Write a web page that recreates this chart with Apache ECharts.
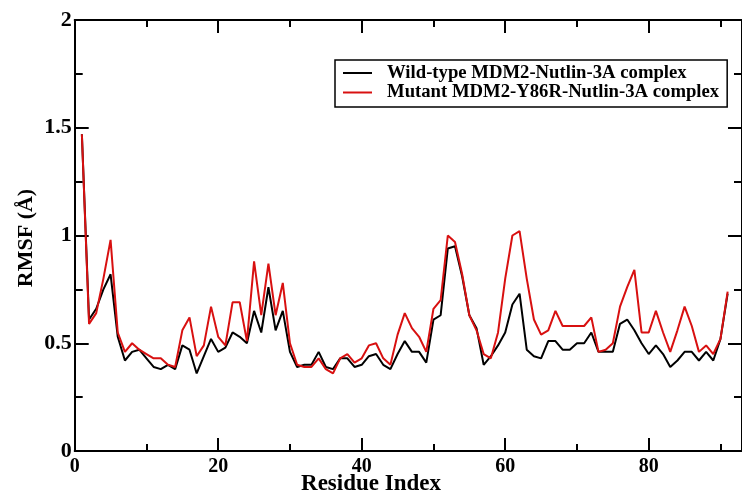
<!DOCTYPE html>
<html>
<head>
<meta charset="utf-8">
<script src="https://cdn.jsdelivr.net/npm/echarts@6/dist/echarts.min.js"></script>
<style>
  html, body { margin: 0; padding: 0; background: #fff; }
  #chart { width: 742px; height: 493px; }
</style>
</head>
<body>
<div id="chart"></div>
<script>
// Residue indices
const residues = [1,2,3,4,5,6,7,8,9,10,11,12,13,14,15,16,17,18,19,20,21,22,23,24,25,26,27,28,29,30,
  31,32,33,34,35,36,37,38,39,40,41,42,43,44,45,46,47,48,49,50,51,52,53,54,55,56,57,58,59,60,
  61,62,63,64,65,66,67,68,69,70,71,72,73,74,75,76,77,78,79,80,81,82,83,84,85,86,87,88,89,90,91];

// RMSF (Å) – Wild-type MDM2-Nutlin-3A complex
const wildType = [1.47,0.61,0.66,0.75,0.82,0.53,0.42,0.46,0.47,0.43,0.39,0.38,0.40,0.38,0.49,0.47,0.36,0.44,0.52,0.46,
  0.48,0.55,0.53,0.50,0.65,0.55,0.76,0.56,0.65,0.46,0.39,0.40,0.40,0.46,0.39,0.38,0.43,0.43,0.39,0.40,
  0.44,0.45,0.40,0.38,0.45,0.51,0.46,0.46,0.41,0.61,0.63,0.94,0.95,0.81,0.63,0.57,0.40,0.44,0.49,0.55,
  0.68,0.73,0.47,0.44,0.43,0.51,0.51,0.47,0.47,0.50,0.50,0.55,0.46,0.46,0.46,0.59,0.61,0.56,0.50,0.45,
  0.49,0.45,0.39,0.42,0.46,0.46,0.42,0.46,0.42,0.52,0.73];

// RMSF (Å) – Mutant MDM2-Y86R-Nutlin-3A complex
const mutant = [1.47,0.59,0.64,0.80,0.98,0.55,0.46,0.50,0.47,0.45,0.43,0.43,0.40,0.39,0.56,0.62,0.44,0.49,0.67,0.53,
  0.49,0.69,0.69,0.51,0.88,0.63,0.87,0.63,0.78,0.50,0.40,0.39,0.39,0.43,0.38,0.36,0.43,0.45,0.41,0.43,
  0.49,0.50,0.43,0.40,0.54,0.64,0.57,0.53,0.46,0.66,0.70,1.00,0.97,0.82,0.63,0.56,0.45,0.43,0.55,0.80,
  1.00,1.02,0.80,0.61,0.54,0.56,0.65,0.58,0.58,0.58,0.58,0.62,0.46,0.47,0.50,0.67,0.76,0.84,0.55,0.55,
  0.65,0.55,0.46,0.56,0.67,0.58,0.46,0.49,0.45,0.52,0.74];

const seriesNames = ['Wild-type MDM2-Nutlin-3A complex', 'Mutant MDM2-Y86R-Nutlin-3A complex'];
const xTickLabels = ['0','20','40','60','80'];
const yTickLabels = ['0','0.5','1','1.5','2'];

const FONT = '"Liberation Serif", "Times New Roman", serif';
const X_MIN = 0, X_MAX = 93, Y_MIN = 0, Y_MAX = 2;

function pairs(ys) { return residues.map((r, i) => [r, ys[i]]); }

function xAx(pos, interval, len, showLine, showLabel) {
  return {
    type: 'value', position: pos, min: X_MIN, max: X_MAX, interval: interval,
    axisLine: { show: showLine, onZero: false, lineStyle: { color: '#000', width: 2 } },
    axisTick: { show: true, inside: true, length: len, lineStyle: { color: '#000', width: 2 } },
    axisLabel: {
      show: showLabel, margin: 6, color: '#000', fontFamily: FONT, fontWeight: 'bold', fontSize: 20,
      showMaxLabel: false,
      formatter: v => { const s = String(v); return xTickLabels.indexOf(s) >= 0 ? s : ''; }
    },
    splitLine: { show: false }
  };
}
function yAx(pos, interval, len, showLine, showLabel) {
  return {
    type: 'value', position: pos, min: Y_MIN, max: Y_MAX, interval: interval,
    axisLine: { show: showLine, onZero: false, lineStyle: { color: '#000', width: 2 } },
    axisTick: { show: true, inside: true, length: len, lineStyle: { color: '#000', width: 2 } },
    axisLabel: {
      show: showLabel, margin: 3, color: '#000', fontFamily: FONT, fontWeight: 'bold', fontSize: 22,
      formatter: v => { const s = String(v); return yTickLabels.indexOf(s) >= 0 ? s : ''; }
    },
    splitLine: { show: false }
  };
}

const chart = echarts.init(document.getElementById('chart'), null, { renderer: 'canvas' });
chart.setOption({
  animation: false,
  backgroundColor: '#fff',
  grid: { left: 74.7, top: 20, width: 669.6, height: 431, containLabel: false },
  xAxis: [
    xAx('bottom', 20, 13, true, true),
    xAx('bottom', 10, 7, false, false),
    xAx('top', 20, 13, true, false),
    xAx('top', 10, 7, false, false)
  ],
  yAxis: [
    yAx('left', 0.5, 14, true, true),
    yAx('left', 0.25, 8, false, false),
    yAx('right', 0.5, 14, true, false),
    yAx('right', 0.25, 8, false, false)
  ],
  legend: {
    left: 335, top: 60, orient: 'vertical',
    data: seriesNames,
    icon: 'rect', itemWidth: 29, itemHeight: 2, itemGap: 0.5,
    padding: [3.5, 8, 5, 8],
    borderColor: '#000', borderWidth: 1.5, backgroundColor: '#fff',
    textStyle: { fontFamily: FONT, fontWeight: 'bold', fontSize: 18.7, color: '#000', lineHeight: 17, padding: [0, 0, 0, 10] }
  },
  graphic: [
    { type: 'text', left: 'center', z: 10,
      style: { text: 'Residue Index', font: 'bold 23px ' + FONT, fill: '#000', textAlign: 'center', textVerticalAlign: 'middle', x: 412, y: 484 } },
    { type: 'text', z: 10, rotation: Math.PI / 2, x: 26, y: 238,
      style: { text: 'RMSF (Å)', font: 'bold 22px ' + FONT, fill: '#000', textAlign: 'center', textVerticalAlign: 'middle' } }
  ],
  series: [
    { name: seriesNames[0], type: 'line', data: pairs(wildType), xAxisIndex: 0, yAxisIndex: 0,
      symbol: 'none', lineStyle: { color: '#000', width: 2 }, itemStyle: { color: '#000' }, z: 3 },
    { name: seriesNames[1], type: 'line', data: pairs(mutant), xAxisIndex: 0, yAxisIndex: 0,
      symbol: 'none', lineStyle: { color: '#d81010', width: 2 }, itemStyle: { color: '#d81010' }, z: 4 }
  ]
});
</script>
</body>
</html>
